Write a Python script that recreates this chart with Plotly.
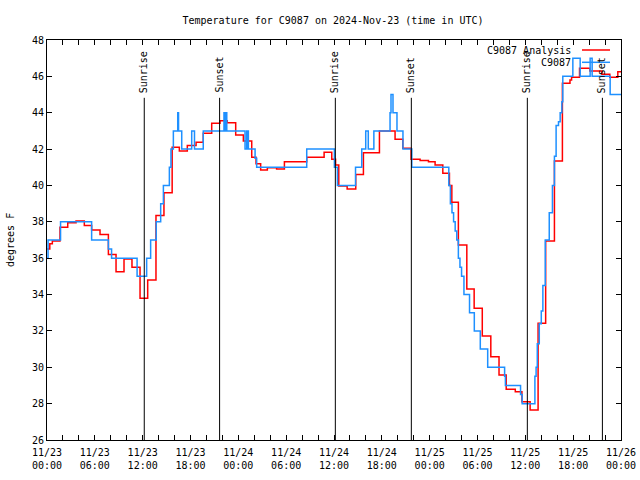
import pandas as pd
import plotly.graph_objects as go

BASE = pd.Timestamp("2024-11-23 00:00")

# Analysis (red) step series: hours since 11/23 00:00 UTC, degrees F
analysis_hours = [0.0, 0.35, 0.67, 1.63, 2.6, 3.64, 4.68, 5.6, 6.65, 7.7, 8.66, 9.66, 10.66, 11.67,
                  12.63, 13.67, 14.67, 15.7, 16.6, 17.6, 18.7, 19.6, 20.66, 21.7, 22.6, 23.67, 24.63,
                  25.68, 26.22, 26.8, 27.64, 28.8, 29.78, 32.58, 34.76, 35.72, 36.2, 36.6, 37.65,
                  38.73, 39.69, 41.7, 43.66, 44.63, 45.67, 46.8, 47.85, 48.68, 49.65, 50.48, 50.78,
                  51.6, 52.66, 53.58, 54.6, 55.67, 56.7, 57.6, 58.74, 59.57, 60.6, 61.6, 62.55, 63.65,
                  64.65, 65.6, 65.8, 66.8, 68.1, 69.6, 70.6, 71.6, 72.0]
analysis_temp = [36.5, 36.8, 36.95, 37.7, 37.95, 38.05, 37.8, 37.55, 37.3, 36.2, 35.25, 35.95, 35.5, 33.8,
                 34.8, 38.35, 39.6, 42.1, 41.9, 42.2, 42.37, 42.87, 43.42, 43.56, 43.45, 42.77, 42.45,
                 41.55, 41.2, 40.85, 40.98, 40.9, 41.3, 41.55, 41.82, 41.44, 41.12, 39.97, 39.8,
                 40.6, 41.8, 43.0, 42.54, 42.04, 41.44, 41.37, 41.3, 41.12, 40.67, 40.0, 39.07,
                 36.72, 34.3, 33.24, 31.72, 30.58, 29.57, 28.79, 28.66, 28.1, 27.65, 32.42, 36.95, 41.34,
                 45.62, 45.8, 45.95, 46.44, 46.3, 46.11, 45.95, 46.26, 46.26]

# Station observations (blue) step series
obs_hours = [0.0, 0.13, 1.7, 5.6, 7.7, 8.1, 11.3, 12.5, 13.0, 13.7, 14.26, 14.6, 15.35, 15.55, 15.85,
             16.4, 16.5, 16.9, 18.15, 18.5, 19.6, 22.2, 22.35, 22.45, 22.55, 24.84, 25.05, 25.12,
             25.2, 25.26, 26.1, 26.3, 32.58, 36.05, 36.43, 38.7, 39.48, 39.98, 40.3, 41.0, 43.03,
             43.15, 43.4, 43.9, 44.65, 45.76, 50.4, 50.6, 50.8, 51.0, 51.2, 51.4, 51.6, 51.8, 52.0,
             52.3, 53.0, 53.6, 54.35, 55.28, 57.4, 57.5, 59.4, 59.6, 61.2, 61.35, 61.5, 61.75, 62.0,
             62.2, 62.5, 63.0, 63.4, 63.65, 63.86, 64.16, 64.37, 64.58, 64.7, 65.96, 66.88, 68.13,
             68.38, 70.64, 72.0]
obs_temp = [36.0, 37.0, 38.0, 37.0, 36.5, 36.0, 35.0, 36.0, 37.0, 38.0, 39.0, 40.0, 41.0, 42.0, 43.0,
            44.0, 43.0, 42.0, 43.0, 42.0, 43.0, 44.0, 43.0, 44.0, 43.0, 42.0, 43.0, 42.0,
            43.0, 42.0, 41.5, 41.0, 42.0, 41.0, 40.0, 41.0, 42.0, 43.0, 42.0, 43.0, 44.0,
            45.0, 44.0, 43.0, 42.0, 41.0, 40.0, 39.0, 38.5, 38.0, 37.5, 37.0, 36.0, 35.5, 35.0,
            34.0, 33.0, 32.0, 31.0, 30.0, 29.5, 29.0, 28.5, 28.0, 29.5, 30.0, 31.3, 32.4, 33.1,
            34.5, 37.0, 38.5, 40.0, 41.6, 43.3, 43.5, 44.0, 44.6, 46.0, 47.0, 46.0, 47.0,
            46.0, 45.0, 45.0]

# Sun events
event_labels = ["Sunrise", "Sunset", "Sunrise", "Sunset", "Sunrise", "Sunset"]
event_times = ["2024-11-23 12:12", "2024-11-23 21:39", "2024-11-24 12:10",
               "2024-11-24 21:42", "2024-11-25 12:15", "2024-11-25 21:40"]

series_names = ["C9087 Analysis", "C9087"]
series_colors = ["#ff0000", "#1e90ff"]

tick_vals = pd.date_range("2024-11-23", "2024-11-26", freq="6h")
tick_text = [t.strftime("%m/%d") + "<br>" + t.strftime("%H:%M") for t in tick_vals]

FONT = "DejaVu Sans Mono"

def to_time(hours):
    return [BASE + pd.Timedelta(hours=h) for h in hours]

fig = go.Figure()
fig.add_trace(go.Scatter(x=to_time(analysis_hours), y=analysis_temp, mode="lines",
                         line=dict(color=series_colors[0], width=1.5, shape="hv"),
                         name=series_names[0], showlegend=False))
fig.add_trace(go.Scatter(x=to_time(obs_hours), y=obs_temp, mode="lines",
                         line=dict(color=series_colors[1], width=1.5, shape="hv"),
                         name=series_names[1], showlegend=False))

# plot area in pixels
L, R, T, B = 47, 621, 40, 440
W, H = R - L, B - T
def px(xp):
    return (xp - L) / W
def py(yp):
    return (B - yp) / H

for lab, t in zip(event_labels, event_times):
    fig.add_shape(type="line", xref="x", yref="y", x0=t, x1=t, y0=26, y1=44.82,
                  line=dict(color="black", width=1))
    fig.add_annotation(x=t, y=py(95), xref="x", yref="paper", text=lab, textangle=-90,
                       showarrow=False, xanchor="center", yanchor="bottom",
                       font=dict(family=FONT, size=10, color="black"))

# gnuplot-style key (text right-aligned, sample to the right)
for i, (nm, col) in enumerate(zip(series_names, series_colors)):
    yp = 50 + 12.3 * i
    fig.add_annotation(x=px(573), y=py(yp), xref="paper", yref="paper", text=nm,
                       showarrow=False, xanchor="right", yanchor="middle",
                       font=dict(family=FONT, size=10, color="black"))
    fig.add_shape(type="line", xref="paper", yref="paper", x0=px(582), x1=px(610),
                  y0=py(yp), y1=py(yp), line=dict(color=col, width=1.5))

fig.add_annotation(x=px(10), y=0.5, xref="paper", yref="paper", text="degrees F",
                   textangle=-90, showarrow=False, xanchor="center", yanchor="middle",
                   font=dict(family=FONT, size=10, color="black"))

fig.update_layout(
    width=640, height=480,
    margin=dict(l=L, r=640 - R, t=T, b=480 - B, autoexpand=False),
    paper_bgcolor="white", plot_bgcolor="white",
    font=dict(family=FONT, size=10, color="black"),
    title=dict(text="Temperature for C9087 on 2024-Nov-23 (time in UTC)",
               x=(333) / 640, xanchor="center", y=1 - 20 / 480, yanchor="middle",
               font=dict(family=FONT, size=10, color="black")),
    xaxis=dict(range=["2024-11-23 00:00", "2024-11-26 00:00"], tickmode="array",
               tickvals=tick_vals, ticktext=tick_text, ticks="inside", ticklen=5,
               tickcolor="black", showline=True, linecolor="black", linewidth=1,
               mirror="ticks", showgrid=False, zeroline=False, automargin=False,
               ticklabelstandoff=3,
               minor=dict(dtick=2 * 3600 * 1000, ticks="inside", ticklen=5,
                          tickcolor="black", showgrid=False)),
    yaxis=dict(range=[26, 48], dtick=2, tick0=26, ticks="inside", ticklen=5,
               tickcolor="black", showline=True, linecolor="black", linewidth=1,
               mirror="ticks", showgrid=False, zeroline=False, automargin=False),
)

fig.write_html("out.html", config={"displayModeBar": False},
               post_script="document.body.style.margin='0';document.body.style.overflow='hidden';")
